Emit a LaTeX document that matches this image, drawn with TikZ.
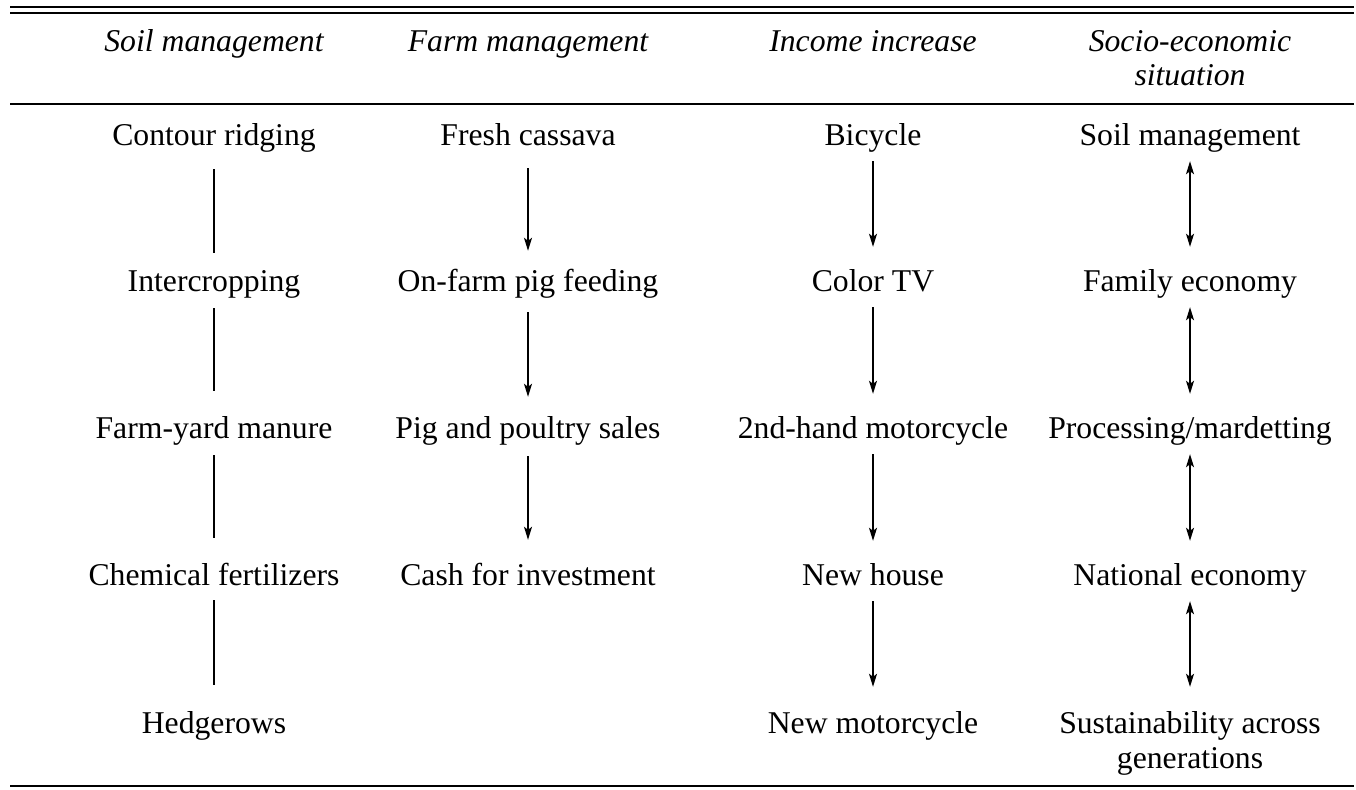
\documentclass[tikz,border=0pt]{standalone}
\usepackage{fontspec}
\setmainfont{Liberation Serif}
\usetikzlibrary{arrows.meta}
\begin{document}
\begin{tikzpicture}[x=1pt,y=-1pt,
  txt/.style={anchor=base,inner sep=0pt,text height=22pt,text depth=7pt,align=center,
    font=\fontsize{31.7}{35}\selectfont},
  txtm/.style={anchor=base,inner sep=0pt,align=center,font=\fontsize{31.7}{35}\selectfont},
  hdr/.style={txt,font=\fontsize{31.7}{34}\selectfont\itshape},
  hdrm/.style={txtm,font=\fontsize{31.7}{34}\selectfont\itshape},
  rulex/.style={line width=2.2pt},
  link/.style={line width=1.4pt,shorten <=9pt,shorten >=22pt},
  arr/.style={link,-{Stealth[length=13pt,width=8pt,inset=3pt]}},
  darr/.style={link,{Stealth[length=13pt,width=8pt,inset=3pt]}-{Stealth[length=13pt,width=8pt,inset=3pt]}}]
\useasboundingbox (0,0) rectangle (1356,789);
% rules
\coordinate (r1l) at (10,7);  \coordinate (r1r) at (1354,7);
\coordinate (r2l) at (10,13); \coordinate (r2r) at (1354,13);
\coordinate (r3l) at (10,104); \coordinate (r3r) at (1354,104);
\coordinate (r4l) at (10,786); \coordinate (r4r) at (1354,786);
\draw[rulex] (r1l) -- (r1r);
\draw[line width=2pt] (r2l) -- (r2r);
\draw[line width=2pt] (r3l) -- (r3r);
\draw[line width=2.6pt] (r4l) -- (r4r);
% headers
\node[hdr] (h1) at (214,52) {Soil management};
\node[hdr] (h2) at (528,52) {Farm management};
\node[hdr] (h3) at (873,52) {Income increase};
\node[hdrm] (h4) at (1190,86) {Socio-economic\\situation};
% column 1
\node[txt] (a1) at (214,145) {Contour ridging};
\node[txt] (a2) at (214,291) {Intercropping};
\node[txt] (a3) at (214,438) {Farm-yard manure};
\node[txt] (a4) at (214,585) {Chemical fertilizers};
\node[txt] (a5) at (214,733) {Hedgerows};
% column 2
\node[txt] (b1) at (528,145) {Fresh cassava};
\node[txt] (b2) at (528,291) {On-farm pig feeding};
\node[txt] (b3) at (528,438) {Pig and poultry sales};
\node[txt] (b4) at (528,585) {Cash for investment};
% column 3
\node[txt] (c1) at (873,145) {Bicycle};
\node[txt] (c2) at (873,291) {Color TV};
\node[txt] (c3) at (873,438) {2nd-hand motorcycle};
\node[txt] (c4) at (873,585) {New house};
\node[txt] (c5) at (873,733) {New motorcycle};
% column 4
\node[txt] (d1) at (1190,145) {Soil management};
\node[txt] (d2) at (1190,291) {Family economy};
\node[txt] (d3) at (1190,438) {Processing/mardetting};
\node[txt] (d4) at (1190,585) {National economy};
\node[txtm] (d5) at (1190,768) {Sustainability across\\generations};
% connectors
\draw[link,shorten <=17pt,shorten >=16pt] (a1.south) -- (a2.north);
\draw[link,shorten <=10pt,shorten >=25pt] (a2.south) -- (a3.north);
\draw[link,shorten <=10pt,shorten >=25pt] (a3.south) -- (a4.north);
\draw[link,shorten <=8pt,shorten >=26pt] (a4.south) -- (a5.north);
\draw[arr,shorten <=16pt,shorten >=18pt] (b1.south) -- (b2.north);
\draw[arr,shorten <=14pt,shorten >=19pt] (b2.south) -- (b3.north);
\draw[arr,shorten <=11pt,shorten >=23pt] (b3.south) -- (b4.north);
\draw[arr] (c1.south) -- (c2.north);
\draw[arr] (c2.south) -- (c3.north);
\draw[arr] (c3.south) -- (c4.north);
\draw[arr,shorten >=24pt] (c4.south) -- (c5.north);
\draw[darr] (d1.south) -- (d2.north);
\draw[darr] (d2.south) -- (d3.north);
\draw[darr] (d3.south) -- (d4.north);
\draw[darr,shorten >=24pt] (d4.south) -- (d5.north);
\end{tikzpicture}
\end{document}
